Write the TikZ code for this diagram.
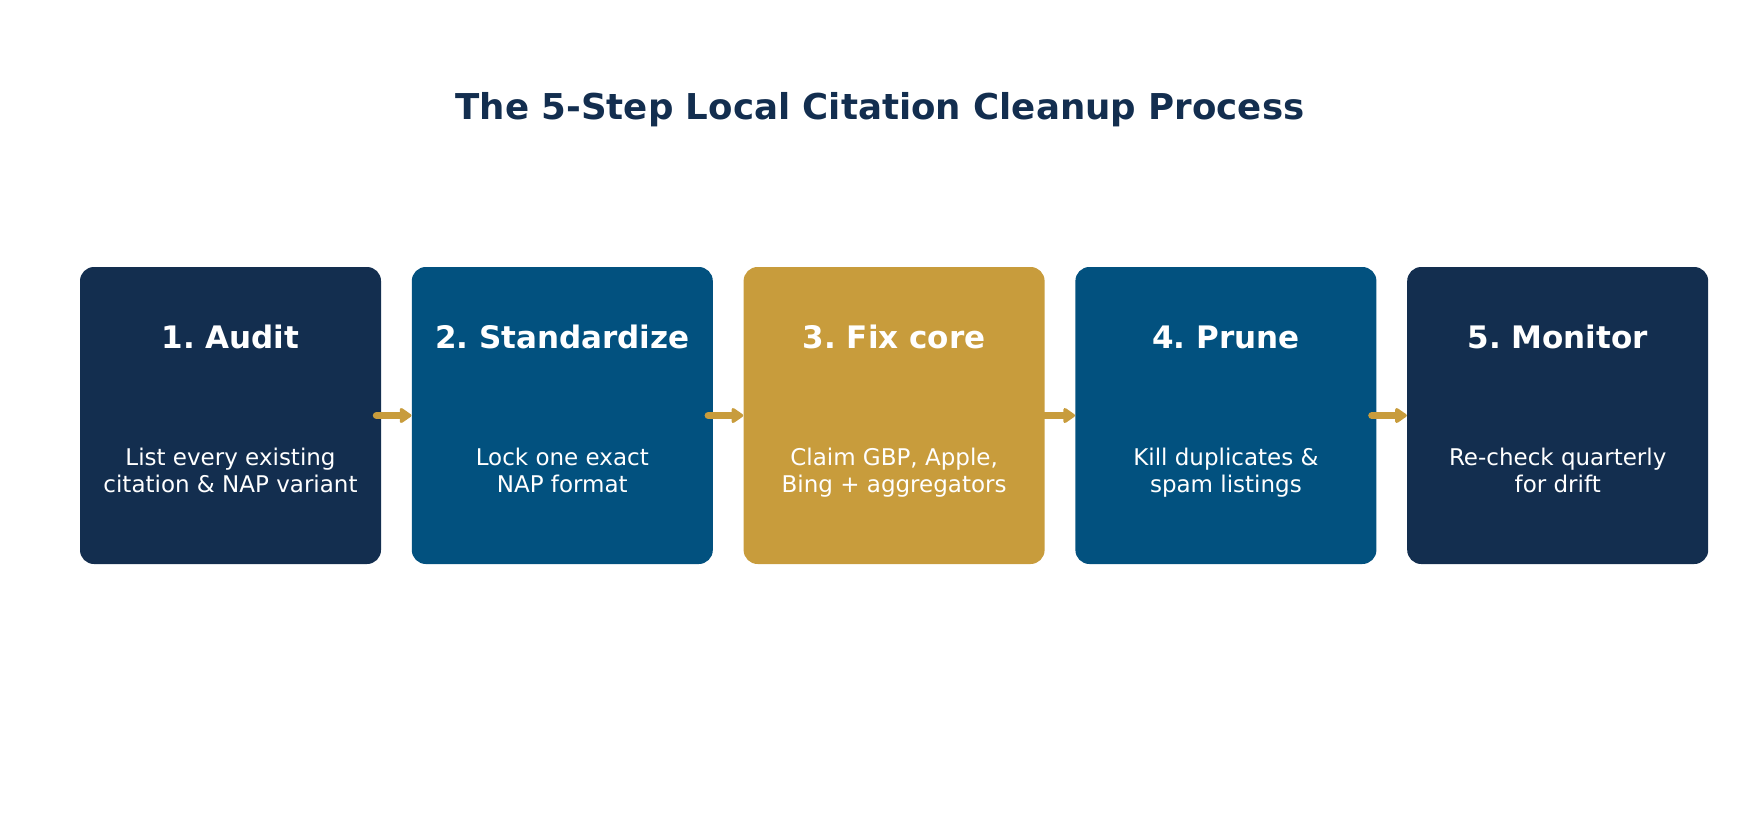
\documentclass[tikz,border=0pt]{standalone}
\usepackage{fontspec}
\setmainfont{DejaVu Sans}
\usetikzlibrary{positioning,arrows.meta}
\definecolor{navy}{HTML}{132E4F}
\definecolor{ocean}{HTML}{02517F}
\definecolor{gold}{HTML}{C89C3C}
\frenchspacing
\tikzset{
    stepbox/.style={rounded corners=7pt, minimum width=150.5pt, minimum height=148.5pt, inner sep=0pt},
    steptitle/.style={text=white, font=\fontsize{15.5}{18}\bfseries\selectfont},
    stepbody/.style={text=white, align=center, text height=22.1pt, text depth=0pt, font=\fontsize{11.5}{13.4}\selectfont},
    flow/.style={gold, line width=3.6pt, line cap=round, -{Triangle[length=6.5pt, width=8.5pt, round]}}
}
\begin{document}
\begin{tikzpicture}[x=0.5pt, y=0.5pt]
        \useasboundingbox (0,0) rectangle (1760,832);
        \node[text=navy, font=\fontsize{17.8}{22}\bfseries\selectfont] (head) at (880,722) {The 5-Step Local Citation Cleanup Process};
        \node[stepbox, fill=navy] (s1) at (230.5,416.5) {};
        \node[stepbox, fill=ocean, right=15pt of s1] (s2) {};
        \node[stepbox, fill=gold, right=15pt of s2] (s3) {};
        \node[stepbox, fill=ocean, right=15pt of s3] (s4) {};
        \node[stepbox, fill=navy, right=15pt of s4] (s5) {};
        \foreach \i/\t/\b in {1/{1. Audit}/{List every existing\\citation \& NAP variant},
                             2/{2. Standardize}/{Lock one exact\\NAP format},
                             3/{3. Fix core}/{Claim GBP, Apple,\\Bing + aggregators},
                             4/{4. Prune}/{Kill duplicates \&\\spam listings},
                             5/{5. Monitor}/{Re-check quarterly\\for drift}}{%
            \node[steptitle] (t\i) at ([yshift=39.25pt]s\i.center) {\t};
            \node[stepbody] (b\i) at ([yshift=-27.25pt]s\i.center) {\b};
        }
        \foreach \i[evaluate=\i as \j using int(\i+1)] in {1,...,4}{%
            \draw[flow] ([xshift=-2.5pt]s\i.east) -- (s\j.west);
        }
    \end{tikzpicture}
\end{document}
